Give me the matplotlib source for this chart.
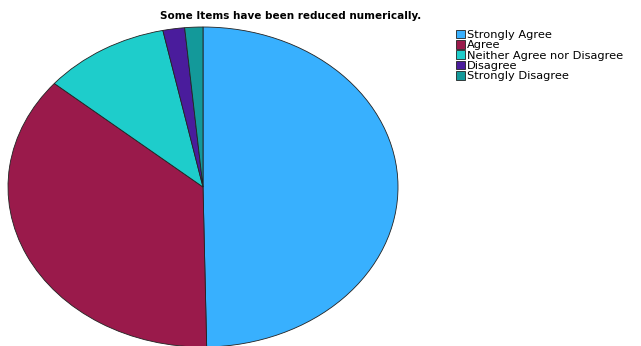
import matplotlib.pyplot as plt
from matplotlib.patches import Patch

# Respostas (percentagens)
categorias = ['Strongly Agree', 'Agree', 'Neither Agree nor Disagree',
              'Disagree', 'Strongly Disagree']
valores = [49.7, 36.5, 10.5, 1.8, 1.5]
cores = ['#38b0fe', '#9a1a4b', '#1ecdcb', '#4a1c9c', '#13999a']

fig = plt.figure(figsize=(6.41, 3.46), dpi=100)

# eixo esticado para a pizza ficar eliptica
ax = fig.add_axes([8 / 641, -1 / 346, 390 / 641, 320 / 346])
ax.pie(valores, colors=cores, startangle=90, counterclock=False,
       wedgeprops=dict(edgecolor='#222222', linewidth=0.6))
ax.set_aspect('auto')
ax.set_xlim(-1.0, 1.0)
ax.set_ylim(-1.0, 1.0)
ax.axis('off')

fig.text(291 / 641, 1 - 16 / 346, 'Some Items have been reduced numerically.',
         ha='center', va='center', fontsize=7.5, fontweight='bold')

handles = [Patch(facecolor=c, edgecolor='#222222', linewidth=0.6) for c in cores]
fig.legend(handles, categorias, loc='upper left',
           bbox_to_anchor=(450 / 641, 1 - 24 / 346), frameon=False,
           fontsize=8.2, handlelength=0.8, handleheight=0.8,
           handletextpad=0.2, labelspacing=0.0, borderpad=0.0)

fig.savefig('out.png', dpi=100)
